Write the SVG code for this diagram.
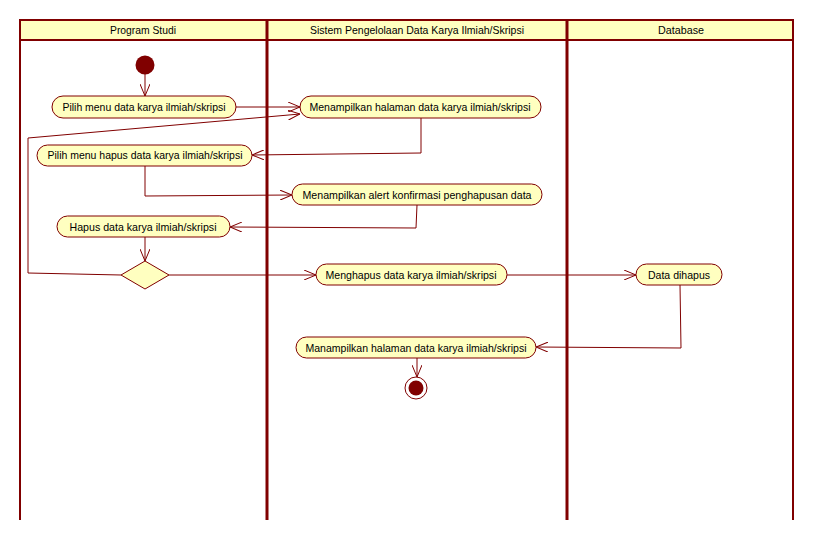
<svg xmlns="http://www.w3.org/2000/svg" width="815" height="539" viewBox="0 0 815 539">
<style>
.lane{stroke:#800000;fill:none}
.hdr{fill:#ffffc0;stroke:none}
.act rect{fill:#ffffc0;stroke:#800000;stroke-width:1}
.act text,.ht{font-family:"Liberation Sans",Arial,sans-serif;font-size:11px;fill:#000;text-anchor:middle}
.con{stroke:#800000;stroke-width:1;fill:none;marker-end:url(#arr)}
</style>
<defs>
<marker id="arr" viewBox="0 0 12 10" refX="12" refY="5" markerWidth="12" markerHeight="10" markerUnits="userSpaceOnUse" orient="auto">
<path d="M0,0 L12,5 L0,10" fill="none" stroke="#800000" stroke-width="1"/>
</marker>
</defs>
<rect x="0" y="0" width="815" height="539" fill="#fff"/>
<g id="swimlanes">
<rect class="hdr" x="20" y="20" width="773" height="20"/>
<line class="lane" x1="20" y1="20" x2="793" y2="20" stroke-width="2"/>
<line class="lane" x1="20" y1="40" x2="793" y2="40" stroke-width="2"/>
<line class="lane" x1="20" y1="19" x2="20" y2="520" stroke-width="2"/>
<line class="lane" x1="267" y1="19" x2="267" y2="520" stroke-width="3"/>
<line class="lane" x1="567" y1="19" x2="567" y2="520" stroke-width="3"/>
<line class="lane" x1="793" y1="19" x2="793" y2="520" stroke-width="2"/>
<text class="ht" x="143" y="34" textLength="66" lengthAdjust="spacingAndGlyphs">Program Studi</text>
<text class="ht" x="417" y="34" textLength="214" lengthAdjust="spacingAndGlyphs">Sistem Pengelolaan Data Karya Ilmiah/Skripsi</text>
<text class="ht" x="681" y="34" textLength="46" lengthAdjust="spacingAndGlyphs">Database</text>
</g>
<g id="connectors">
<path class="con" d="M145,74 L145,96"/>
<path class="con" d="M236,107 L300,107"/>
<path class="con" d="M421,118 L421,153 L252,155"/>
<path class="con" d="M145,166 L145,196 L292,195"/>
<path class="con" d="M417,205 L416,228 L230,227"/>
<path class="con" d="M145,237 L145,261"/>
<path class="con" d="M169,275 L316,275"/>
<path class="con" d="M121,275 L28,273 L28,138 L300,114"/>
<path class="con" d="M507,275 L636,275"/>
<path class="con" d="M680,285 L681,348 L536,347"/>
<path class="con" d="M417,358 L417,377"/>
</g>
<g id="start"><circle cx="145" cy="65" r="9.5" fill="#800000"/></g>
<g id="a1" class="act"><rect x="52" y="96" width="184" height="22" rx="11"/><text x="144" y="111" textLength="163" lengthAdjust="spacingAndGlyphs">Pilih menu data karya ilmiah/skripsi</text></g>
<g id="a2" class="act"><rect x="300" y="96" width="241" height="22" rx="11"/><text x="420" y="111" textLength="221" lengthAdjust="spacingAndGlyphs">Menampilkan halaman data karya ilmiah/skripsi</text></g>
<g id="a3" class="act"><rect x="37" y="145" width="215" height="21" rx="10.5"/><text x="145" y="159" textLength="195" lengthAdjust="spacingAndGlyphs">Pilih menu hapus data karya ilmiah/skripsi</text></g>
<g id="a4" class="act"><rect x="292" y="184" width="250" height="21" rx="10.5"/><text x="417" y="199" textLength="229" lengthAdjust="spacingAndGlyphs">Menampilkan alert konfirmasi penghapusan data</text></g>
<g id="a5" class="act"><rect x="57" y="216" width="173" height="21" rx="10.5"/><text x="143" y="231" textLength="147" lengthAdjust="spacingAndGlyphs">Hapus data karya ilmiah/skripsi</text></g>
<g id="decision"><polygon points="145,261 169,275 145,289 121,275" fill="#ffffc0" stroke="#800000" stroke-width="1"/></g>
<g id="a6" class="act"><rect x="316" y="264" width="191" height="21" rx="10.5"/><text x="411" y="279" textLength="171" lengthAdjust="spacingAndGlyphs">Menghapus data karya ilmiah/skripsi</text></g>
<g id="a7" class="act"><rect x="636" y="264" width="86" height="21" rx="10.5"/><text x="679" y="279" textLength="62" lengthAdjust="spacingAndGlyphs">Data dihapus</text></g>
<g id="a8" class="act"><rect x="296" y="337" width="240" height="21" rx="10.5"/><text x="416" y="352" textLength="221" lengthAdjust="spacingAndGlyphs">Manampilkan halaman data karya ilmiah/skripsi</text></g>
<g id="end"><circle cx="416" cy="388" r="11" fill="#fff" stroke="#800000" stroke-width="1"/><circle cx="416" cy="388" r="7.5" fill="#800000"/></g>
</svg>
